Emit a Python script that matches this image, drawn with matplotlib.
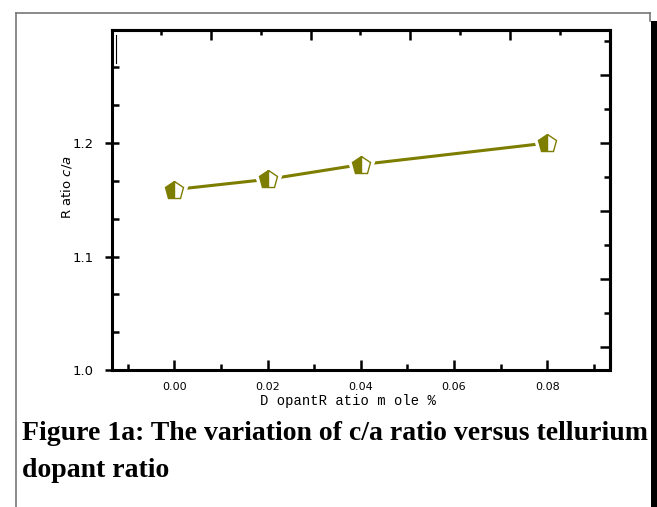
import matplotlib
matplotlib.use("Agg")
import matplotlib.pyplot as plt
from matplotlib.lines import Line2D
from matplotlib.patches import Rectangle
from matplotlib.ticker import FixedLocator, MultipleLocator, NullFormatter

# ---- data ----
dopant_ratio = [0.00, 0.02, 0.04, 0.08]
ca_ratio = [1.159, 1.168, 1.181, 1.200]

x_ticks = [0.00, 0.02, 0.04, 0.06, 0.08]
x_ticklabels = ["0.00", "0.02", "0.04", "0.06", "0.08"]
y_ticks = [1.0, 1.1, 1.2]
y_ticklabels = ["1.0", "1.1", "1.2"]

xlabel = "D opantR atio m ole %"
ylabel_plain = "R atio "
caption_line1 = "Figure 1a: The variation of c/a ratio versus tellurium"
caption_line2 = "dopant ratio"

# ---- figure ----
W, H = 657, 507
fig = plt.figure(figsize=(W / 100, H / 100), dpi=100)
fig.patch.set_facecolor("white")

def fx(px):
    return px / W

def fy(py):
    return 1 - py / H

# outer frame and right black bar
fig.add_artist(Line2D([fx(16), fx(650)], [fy(13), fy(13)], color="#777777", lw=1.2))
fig.add_artist(Line2D([fx(16), fx(16)], [fy(13), fy(507)], color="#777777", lw=1.2))
fig.add_artist(Line2D([fx(650), fx(650)], [fy(13), fy(21)], color="#777777", lw=1.2))
fig.add_artist(Rectangle((fx(651), 0), fx(657) - fx(651), fy(21), transform=fig.transFigure,
                         facecolor="black", edgecolor="none"))

ax = fig.add_axes([fx(111.5), fy(370), fx(609.5) - fx(111.5), fy(30) - fy(370)])
olive = "#7d7d00"

ax.set_xlim(-0.01348, 0.09335)
ax.set_ylim(1.0, 1.2996)

# line with gaps around markers
ax.plot(dopant_ratio, ca_ratio, color=olive, lw=2.2, zorder=2, solid_capstyle="butt")
ax.plot(dopant_ratio, ca_ratio, ls="none", marker="p", markersize=19, color="white",
        markeredgecolor="white", zorder=3)
ax.plot(dopant_ratio, ca_ratio, ls="none", marker="p", markersize=13.5, fillstyle="left",
        markerfacecolor=olive, markerfacecoloralt="white", markeredgecolor=olive,
        markeredgewidth=1.0, zorder=4)

for s in ax.spines.values():
    s.set_linewidth(2.2)

ax.set_xticks(x_ticks)
ax.set_xticklabels(x_ticklabels, fontsize=8, family="DejaVu Sans")
ax.xaxis.set_minor_locator(MultipleLocator(0.01))
ax.set_yticks(y_ticks)
ax.set_yticklabels(y_ticklabels, fontsize=9.5, family="DejaVu Sans")
ax.yaxis.set_minor_locator(MultipleLocator(0.1 / 3))
ax.tick_params(axis="x", which="major", direction="in", length=7, width=1.8, pad=9)
ax.tick_params(axis="x", which="minor", direction="in", length=4, width=1.8)
ax.tick_params(axis="y", which="major", direction="inout", length=10, width=1.8, pad=8)
ax.tick_params(axis="y", which="minor", direction="in", length=5, width=1.8)

# top axis (independent tick set)
top_start, top_step = -0.00285, 0.01069
top_major = [top_start + k * top_step for k in range(1, 9, 2)]
top_minor = [top_start + k * top_step for k in range(0, 9, 2)]
secx = ax.secondary_xaxis("top")
secx.xaxis.set_major_locator(FixedLocator(top_major))
secx.xaxis.set_minor_locator(FixedLocator(top_minor))
secx.xaxis.set_major_formatter(NullFormatter())
secx.tick_params(which="major", direction="in", length=7, width=1.8)
secx.tick_params(which="minor", direction="in", length=3.5, width=1.8)
secx.spines["top"].set_linewidth(2.2)

# right axis (independent tick set)
secy = ax.secondary_yaxis("right")
secy.yaxis.set_major_locator(MultipleLocator(0.06))
secy.yaxis.set_minor_locator(MultipleLocator(0.03))
secy.yaxis.set_major_formatter(NullFormatter())
secy.tick_params(which="major", direction="in", length=7.5, width=1.8)
secy.tick_params(which="minor", direction="in", length=4, width=1.8)
secy.spines["right"].set_linewidth(2.2)

# small vertical artifact near top-left
fig.add_artist(Line2D([fx(116), fx(116)], [fy(35), fy(63)], color="black", lw=0.8))

# axis labels
fig.text(fx(348), fy(401), xlabel, fontsize=10, family="Liberation Mono",
         ha="center", va="center")
fig.text(fx(66), fy(187), ylabel_plain + r"$\it{c/a}$", rotation=90, fontsize=9.5,
         ha="center", va="center", family="DejaVu Sans")

# caption
fig.text(fx(22), fy(440), caption_line1, fontsize=20, fontweight="bold",
         family="Liberation Serif", ha="left", va="baseline")
fig.text(fx(22), fy(477), caption_line2, fontsize=20, fontweight="bold",
         family="Liberation Serif", ha="left", va="baseline")

fig.savefig("out.png", dpi=100)
